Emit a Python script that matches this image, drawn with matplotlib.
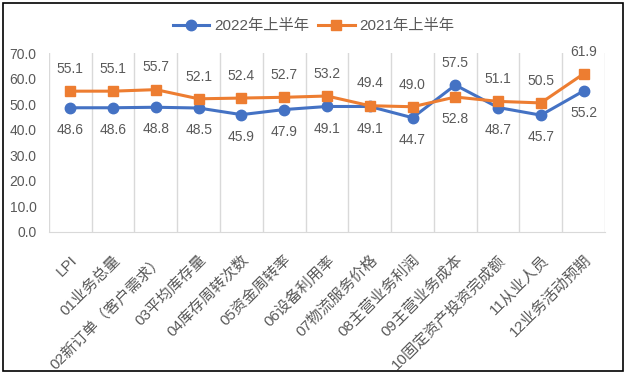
import numpy as np
import matplotlib
matplotlib.use('Agg')
import matplotlib.pyplot as plt
from matplotlib.patches import Rectangle

# Categories and values
categories = ['LPI', '01业务总量', '02新订单（客户需求）', '03平均库存量', '04库存周转次数',
              '05资金周转率', '06设备利用率', '07物流服务价格', '08主营业务利润',
              '09主营业务成本', '10固定资产投资完成额', '11从业人员', '12业务活动预期']
h1_2022 = [48.6, 48.6, 48.8, 48.5, 45.9, 47.9, 49.1, 49.1, 44.7, 57.5, 48.7, 45.7, 55.2]
h1_2021 = [55.1, 55.1, 55.7, 52.1, 52.4, 52.7, 53.2, 49.4, 49.0, 52.8, 51.1, 50.5, 61.9]
yticks = [0, 10, 20, 30, 40, 50, 60, 70]

BLUE = '#4472C4'
ORANGE = '#ED7D31'
GRAY = '#595959'
GRID = '#D9D9D9'
NUM_FONT = ['Liberation Sans', 'DejaVu Sans']
CJK_FONT = ['Liberation Sans', 'Noto Sans CJK SC', 'DejaVu Sans']

fig = plt.figure(figsize=(6.27, 3.74), dpi=100)
ax = fig.add_axes([0.078, 0.380, 0.887, 0.478])

x = np.arange(len(categories))
ax.plot(x, h1_2022, color=BLUE, lw=2.2, marker='o', ms=7.5, label='2022年上半年', zorder=3)
ax.plot(x, h1_2021, color=ORANGE, lw=2.2, marker='s', ms=7.5, label='2021年上半年', zorder=3)

# data labels: higher series above, lower series below
for i in x:
    a, b = h1_2022[i], h1_2021[i]
    for v, other in ((a, b), (b, a)):
        up = v >= other
        ax.annotate('{:.1f}'.format(v), (i, v), xytext=(0, 16 if up else -16),
                    textcoords='offset points', ha='center', va='center',
                    fontsize=10, color=GRAY, family=NUM_FONT)

ax.set_xlim(-0.5, len(categories) - 0.5)
ax.set_ylim(0, 70)
ax.set_yticks(yticks)
ax.set_yticklabels(['{:.1f}'.format(t) for t in yticks], fontsize=10, color=GRAY, family=NUM_FONT)
ax.tick_params(axis='y', length=0, pad=9)

# vertical grid between categories
for b in np.arange(-0.5, len(categories), 1.0):
    ax.axvline(b, color=GRID, lw=1, zorder=0)
ax.set_xticks(x)
ax.set_xticklabels(categories, rotation=45, ha='right', va='top', rotation_mode='anchor',
                   fontsize=11, color=GRAY, family=CJK_FONT)
ax.tick_params(axis='x', length=0, pad=15)

for s in ('top', 'right', 'left'):
    ax.spines[s].set_visible(False)
ax.spines['bottom'].set_color(GRID)

leg = fig.legend(loc='center', bbox_to_anchor=(0.5, 0.93), ncol=2, frameon=False,
                 prop={'family': CJK_FONT, 'size': 11}, handlelength=2.4,
                 columnspacing=0.6, handletextpad=0.3)
for t in leg.get_texts():
    t.set_color(GRAY)

fig.patches.append(Rectangle((0.0048, 0.008), 0.9888, 0.984, transform=fig.transFigure,
                             fill=False, edgecolor='black', lw=1.2))

fig.savefig('out.png', dpi=100, facecolor='white')
